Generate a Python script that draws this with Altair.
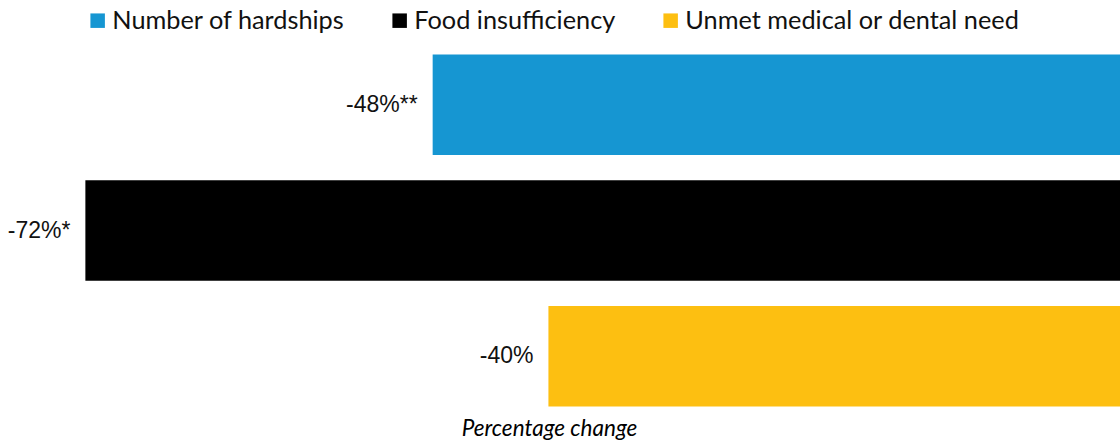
import altair as alt
import pandas as pd

categories = ["Number of hardships", "Food insufficiency", "Unmet medical or dental need"]
values = [-48, -72, -40]
labels = ["-48%**", "-72%*", "-40%"]
colors = ["#1696d2", "#000000", "#fdbf11"]

df = pd.DataFrame({"cat": categories, "val": values, "lab": labels})

x_enc = alt.X(
    "val:Q",
    scale=alt.Scale(domain=[-77.9, -0.5], nice=False, zero=False),
    axis=alt.Axis(
        title="Percentage change", labels=False, ticks=False, domain=False, grid=False,
        titleFont="Lato", titleFontSize=22.5, titleFontStyle="italic", titleFontWeight="normal",
        titleColor="#000000", titlePadding=-2, titleX=549, titleAlign="center",
    ),
)
y_enc = alt.Y(
    "cat:N", sort=categories,
    scale=alt.Scale(paddingInner=0.2, paddingOuter=0.1),
    axis=None,
)

bars = alt.Chart(df).mark_bar(clip=True).encode(
    x=x_enc,
    x2=alt.datum(0),
    y=y_enc,
    color=alt.Color(
        "cat:N",
        scale=alt.Scale(domain=categories, range=colors),
        legend=alt.Legend(
            title=None, orient="none", legendX=85, legendY=-34, direction="horizontal",
            padding=0,
            symbolType="square", symbolSize=210, symbolStrokeWidth=0, symbolOpacity=1,
            labelFont="Lato", labelFontSize=25.3, labelColor="#111111", labelOffset=2,
            columnPadding=42, labelLimit=500,
        ),
    ),
)

text = alt.Chart(df).mark_text(
    align="right", baseline="middle", dx=-15, font="Liberation Sans", fontSize=23, color="#111111"
).encode(
    x=alt.X("val:Q"),
    y=alt.Y("cat:N", sort=categories),
    text="lab:N",
)

chart = alt.layer(bars, text).properties(
    width=1120, height=377,
    padding={"top": 42, "left": 0, "right": 0, "bottom": 22},
    autosize=alt.AutoSizeParams(type="none"),
).configure_view(stroke=None)

chart.save("out.html", embed_options={"renderer": "svg", "actions": False})
